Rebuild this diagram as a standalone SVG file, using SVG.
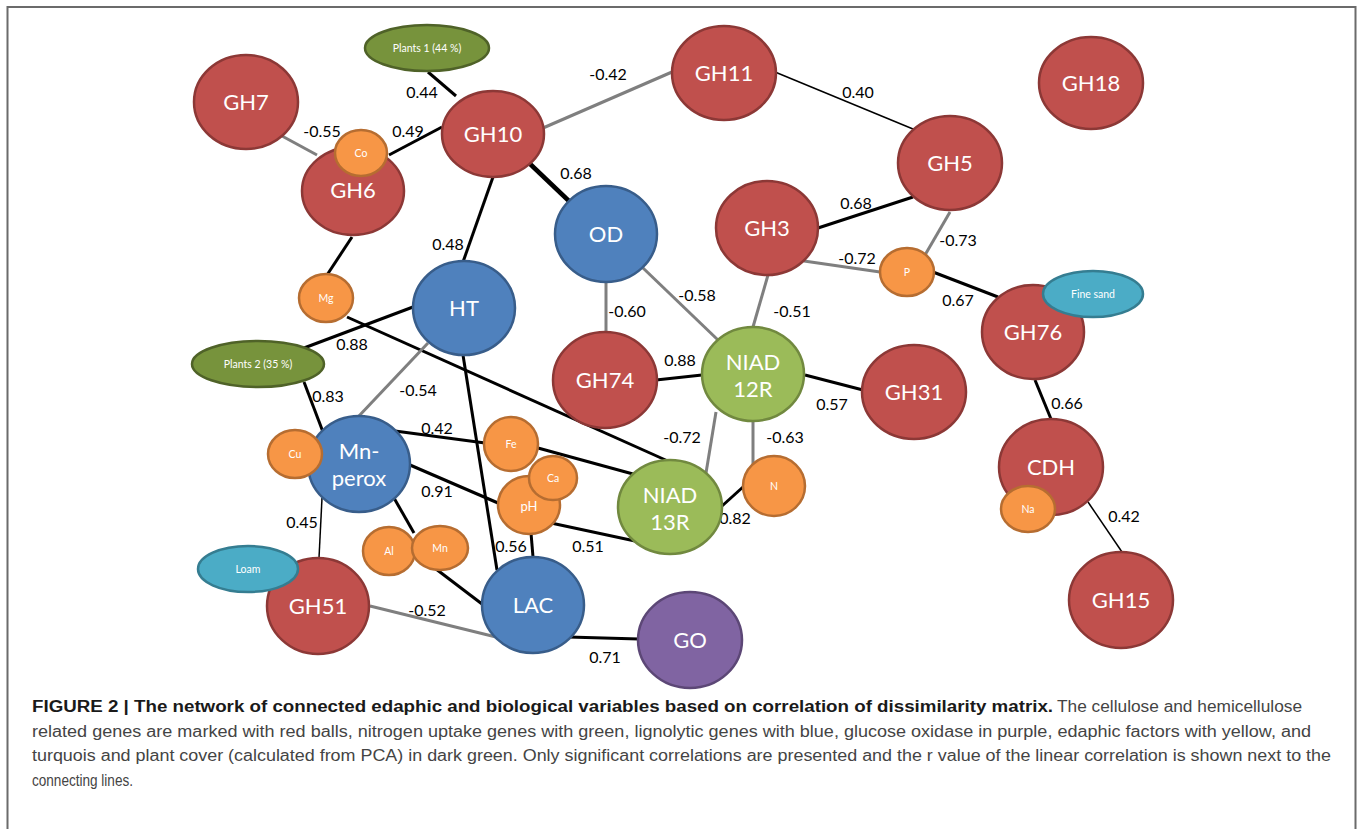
<svg xmlns="http://www.w3.org/2000/svg" width="1360" height="829" viewBox="0 0 1360 829">
<style>
.red{fill:#C0504D;stroke:#8C3836;stroke-width:2.5}
.blue{fill:#4F81BD;stroke:#385D8A;stroke-width:2.5}
.grn{fill:#9BBB59;stroke:#71893F;stroke-width:2.5}
.org{fill:#F79646;stroke:#B66D31;stroke-width:2.5}
.pur{fill:#8064A2;stroke:#5C4776;stroke-width:2.5}
.teal{fill:#4BACC6;stroke:#357D91;stroke-width:2.5}
.dg{fill:#77933C;stroke:#4F6228;stroke-width:2.5}
.lb{font-family:Lato,"Open Sans","Liberation Sans",sans-serif;fill:#fff;text-anchor:middle}
.big{font-size:22px}
.sm{font-size:10.5px}
.k{stroke:#000;stroke-width:3;fill:none}
.g{stroke:#7F7F7F;stroke-width:3;fill:none}
.t{stroke:#000;stroke-width:1.5;fill:none}
.tk{stroke:#000;stroke-width:4.5;fill:none}
.el{font-family:Lato,"Open Sans","Liberation Sans",sans-serif;font-size:16px;fill:#000;text-anchor:middle}
.cap{font-family:"Liberation Sans",Arial,sans-serif;font-size:16px;fill:#444}
.capb{font-family:"Liberation Sans",Arial,sans-serif;font-size:16px;font-weight:bold;fill:#1a1a1a}
</style>
<rect width="1360" height="829" fill="#fff"/>
<path d="M7.5 829 V7 H1355.5 V829" fill="none" stroke="#6b6b6b" stroke-width="2"/>
<g id="connectors">
<line class="g" x1="282" y1="136" x2="317" y2="155"/>
<line class="k" x1="389" y1="155" x2="442" y2="127"/>
<line class="k" x1="428" y1="72" x2="456" y2="96"/>
<line class="g" x1="543" y1="128" x2="672" y2="72"/>
<line class="t" x1="775" y1="72" x2="913" y2="129"/>
<line class="tk" x1="528" y1="162" x2="570" y2="202"/>
<line class="k" x1="493" y1="177" x2="463" y2="262"/>
<line class="k" x1="352" y1="237" x2="327" y2="275"/>
<line class="k" x1="818" y1="228" x2="913" y2="197"/>
<line class="g" x1="804" y1="261" x2="880" y2="272"/>
<line class="g" x1="950" y1="212" x2="925" y2="255"/>
<line class="k" x1="933" y1="272" x2="998" y2="297"/>
<line class="g" x1="606" y1="281" x2="606" y2="332"/>
<line class="g" x1="643" y1="268" x2="718" y2="340"/>
<line class="g" x1="768" y1="275" x2="753" y2="327"/>
<line class="k" x1="656" y1="380" x2="702" y2="375"/>
<line class="k" x1="805" y1="375" x2="863" y2="390"/>
<line class="g" x1="716" y1="412" x2="706" y2="473"/>
<line class="g" x1="753" y1="422" x2="753" y2="464"/>
<line class="k" x1="722" y1="506" x2="743" y2="487"/>
<line class="k" x1="347" y1="317" x2="670" y2="462"/>
<line class="k" x1="413" y1="307" x2="304" y2="348"/>
<line class="k" x1="304" y1="382" x2="323" y2="432"/>
<line class="g" x1="428" y1="343" x2="358" y2="417"/>
<line class="k" x1="463" y1="355" x2="497" y2="570"/>
<line class="k" x1="395" y1="431" x2="485" y2="443"/>
<line class="k" x1="538" y1="448" x2="633" y2="474"/>
<line class="k" x1="410" y1="465" x2="498" y2="503"/>
<line class="k" x1="551" y1="523" x2="635" y2="541"/>
<line class="k" x1="531" y1="533" x2="533" y2="557"/>
<line class="k" x1="394" y1="498" x2="414" y2="533"/>
<line class="k" x1="436" y1="569" x2="482" y2="604"/>
<line class="t" x1="322" y1="498" x2="319" y2="558"/>
<line class="g" x1="370" y1="606" x2="496" y2="637"/>
<line class="k" x1="568" y1="637" x2="639" y2="639"/>
<line class="k" x1="1035" y1="380" x2="1051" y2="419"/>
<line class="t" x1="1088" y1="502" x2="1122" y2="552"/>
<g id="edge-labels">
<text class="el" x="322" y="137">-0.55</text>
<text class="el" x="408" y="137">0.49</text>
<text class="el" x="422" y="98">0.44</text>
<text class="el" x="608" y="80">-0.42</text>
<text class="el" x="858" y="98">0.40</text>
<text class="el" x="576" y="179">0.68</text>
<text class="el" x="448" y="250">0.48</text>
<text class="el" x="856" y="209">0.68</text>
<text class="el" x="857" y="264">-0.72</text>
<text class="el" x="958" y="246">-0.73</text>
<text class="el" x="958" y="306">0.67</text>
<text class="el" x="627" y="317">-0.60</text>
<text class="el" x="697" y="301">-0.58</text>
<text class="el" x="792" y="317">-0.51</text>
<text class="el" x="680" y="366">0.88</text>
<text class="el" x="832" y="410">0.57</text>
<text class="el" x="682" y="443">-0.72</text>
<text class="el" x="785" y="443">-0.63</text>
<text class="el" x="735" y="524">0.82</text>
<text class="el" x="352" y="350">0.88</text>
<text class="el" x="328" y="402">0.83</text>
<text class="el" x="418" y="396">-0.54</text>
<text class="el" x="437" y="434">0.42</text>
<text class="el" x="437" y="497">0.91</text>
<text class="el" x="511" y="552">0.56</text>
<text class="el" x="588" y="552">0.51</text>
<text class="el" x="302" y="528">0.45</text>
<text class="el" x="427" y="616">-0.52</text>
<text class="el" x="605" y="663">0.71</text>
<text class="el" x="1067" y="409">0.66</text>
<text class="el" x="1124" y="522">0.42</text>
</g>
</g>
<g id="GH7"><ellipse class="red" cx="246" cy="102" rx="52" ry="47"/><text class="lb big" x="246" y="110">GH7</text></g>
<g id="GH6"><ellipse class="red" cx="353" cy="191" rx="51" ry="44"/><text class="lb big" x="353" y="198">GH6</text></g>
<g id="Co"><ellipse class="org" cx="361" cy="153" rx="26" ry="23"/><text class="lb sm" x="361" y="157">Co</text></g>
<g id="Plants1"><ellipse class="dg" cx="427" cy="48" rx="62" ry="23"/><text class="lb sm" x="427" y="52">Plants 1 (44 %)</text></g>
<g id="GH10"><ellipse class="red" cx="493" cy="134" rx="51" ry="43"/><text class="lb big" x="493" y="142">GH10</text></g>
<g id="GH11"><ellipse class="red" cx="724" cy="73" rx="52" ry="47"/><text class="lb big" x="724" y="81">GH11</text></g>
<g id="GH18"><ellipse class="red" cx="1091" cy="83" rx="52" ry="46"/><text class="lb big" x="1091" y="91">GH18</text></g>
<g id="GH5"><ellipse class="red" cx="950" cy="163" rx="52" ry="47"/><text class="lb big" x="950" y="171">GH5</text></g>
<g id="OD"><ellipse class="blue" cx="606" cy="234" rx="51" ry="48"/><text class="lb big" x="606" y="242">OD</text></g>
<g id="GH3"><ellipse class="red" cx="767" cy="228" rx="51" ry="47"/><text class="lb big" x="767" y="236">GH3</text></g>
<g id="P"><ellipse class="org" cx="907" cy="272" rx="27" ry="24"/><text class="lb sm" x="907" y="276">P</text></g>
<g id="GH76"><ellipse class="red" cx="1033" cy="332" rx="51" ry="47"/><text class="lb big" x="1033" y="340">GH76</text></g>
<g id="FineSand"><ellipse class="teal" cx="1093" cy="294" rx="50" ry="23"/><text class="lb sm" x="1093" y="298">Fine sand</text></g>
<g id="Mg"><ellipse class="org" cx="326" cy="298" rx="27" ry="24"/><text class="lb sm" x="326" y="302">Mg</text></g>
<g id="HT"><ellipse class="blue" cx="464" cy="308" rx="51" ry="47"/><text class="lb big" x="464" y="316">HT</text></g>
<g id="Plants2"><ellipse class="dg" cx="258" cy="364" rx="66" ry="23"/><text class="lb sm" x="258" y="368">Plants 2 (35  %)</text></g>
<g id="GH74"><ellipse class="red" cx="605" cy="380" rx="52" ry="48"/><text class="lb big" x="605" y="388">GH74</text></g>
<g id="NIAD12R"><ellipse class="grn" cx="753" cy="374" rx="51" ry="47"/><text class="lb big" x="753" y="370">NIAD</text><text class="lb big" x="753" y="397">12R</text></g>
<g id="GH31"><ellipse class="red" cx="914" cy="392" rx="52" ry="47"/><text class="lb big" x="914" y="400">GH31</text></g>
<g id="MnPerox"><ellipse class="blue" cx="359" cy="464" rx="51" ry="48"/><text class="lb big" x="359" y="459">Mn-</text><text class="lb big" x="359" y="486">perox</text></g>
<g id="Cu"><ellipse class="org" cx="295" cy="454" rx="27" ry="24"/><text class="lb sm" x="295" y="458">Cu</text></g>
<g id="Fe"><ellipse class="org" cx="511" cy="444" rx="27" ry="27"/><text class="lb sm" x="511" y="448">Fe</text></g>
<g id="pH"><ellipse class="org" cx="529" cy="505" rx="31" ry="29"/><text class="lb" style="font-size:13px" x="529" y="511">pH</text></g>
<g id="Ca"><ellipse class="org" cx="553" cy="478" rx="24" ry="22"/><text class="lb sm" x="553" y="482">Ca</text></g>
<g id="NIAD13R"><ellipse class="grn" cx="670" cy="507" rx="52" ry="47"/><text class="lb big" x="670" y="503">NIAD</text><text class="lb big" x="670" y="530">13R</text></g>
<g id="N"><ellipse class="org" cx="774" cy="486" rx="31" ry="30"/><text class="lb sm" x="774" y="490">N</text></g>
<g id="CDH"><ellipse class="red" cx="1051" cy="467" rx="52" ry="48"/><text class="lb big" x="1051" y="475">CDH</text></g>
<g id="Na"><ellipse class="org" cx="1028" cy="509" rx="27" ry="23"/><text class="lb sm" x="1028" y="513">Na</text></g>
<g id="GH15"><ellipse class="red" cx="1121" cy="600" rx="52" ry="48"/><text class="lb big" x="1121" y="608">GH15</text></g>
<g id="Al"><ellipse class="org" cx="389" cy="551" rx="26" ry="24"/><text class="lb sm" x="389" y="555">Al</text></g>
<g id="Mn"><ellipse class="org" cx="440" cy="548" rx="28" ry="22"/><text class="lb sm" x="440" y="552">Mn</text></g>
<g id="GH51"><ellipse class="red" cx="318" cy="606" rx="51" ry="48"/><text class="lb big" x="318" y="614">GH51</text></g>
<g id="Loam"><ellipse class="teal" cx="248" cy="569" rx="50" ry="23"/><text class="lb sm" x="248" y="573">Loam</text></g>
<g id="LAC"><ellipse class="blue" cx="533" cy="605" rx="51" ry="48"/><text class="lb big" x="533" y="613">LAC</text></g>
<g id="GO"><ellipse class="pur" cx="690" cy="640" rx="52" ry="48"/><text class="lb big" x="690" y="648">GO</text></g>
<g id="caption">
<text class="capb" x="32" y="712" textLength="1021" lengthAdjust="spacingAndGlyphs">FIGURE 2 | The network of connected edaphic and biological variables based on correlation of dissimilarity matrix.</text>
<text class="cap" x="1057" y="712" textLength="245" lengthAdjust="spacingAndGlyphs">The cellulose and hemicellulose</text>
<text class="cap" x="32" y="737" textLength="1279" lengthAdjust="spacingAndGlyphs">related genes are marked with red balls, nitrogen uptake genes with green, lignolytic genes with blue, glucose oxidase in purple, edaphic factors with yellow, and</text>
<text class="cap" x="32" y="761" textLength="1299" lengthAdjust="spacingAndGlyphs">turquois and plant cover (calculated from PCA) in dark green. Only significant correlations are presented and the r value of the linear correlation is shown next to the</text>
<text class="cap" x="32" y="786" textLength="101" lengthAdjust="spacingAndGlyphs">connecting lines.</text>
</g>
</svg>
